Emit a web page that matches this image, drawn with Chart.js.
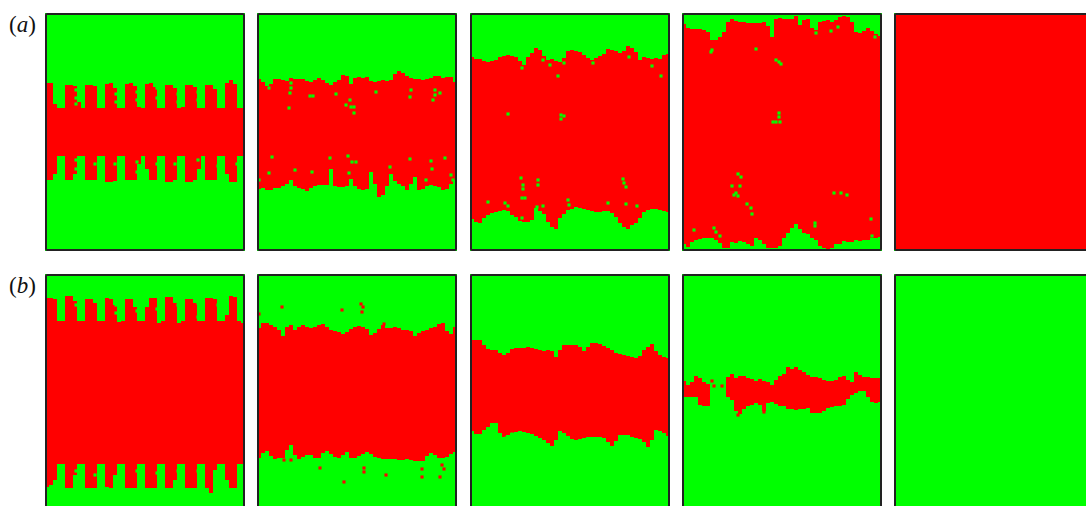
<!DOCTYPE html>
<html>
<head>
<meta charset="utf-8">
<script src="https://cdn.jsdelivr.net/npm/chart.js@4"></script>
<style>
    html, body { margin: 0; width: 1086px; height: 506px; overflow: hidden; background: #fff; }
    .panel { position: absolute; width: 200px; height: 238px; background: #00ff00; overflow: hidden; }
    .panel::after { content: ''; position: absolute; inset: 0; border: 2px solid #222; border-radius: 2px; box-sizing: border-box; }
    .panel canvas { display: block; margin-top: 1px; filter: blur(0.35px); }
    .label { position: absolute; left: 9px; font: 23px "Liberation Serif", serif; color: #111; }
    .label i { font-style: italic; }
</style>
</head>
<body>
<div class="label" style="top: 12px">(<i>a</i>)</div>
<div class="label" style="top: 273px">(<i>b</i>)</div>
<div id="panels"></div>

<script>
// every number: top and bottom of the red band per column, y counted down from the panel top
const a1Top = [69,69,90,94,94, 71,71,72,88,94, 71,71,72,94,94, 70,69,74,94,94, 70,69,72,93,94, 70,69,73,94,94, 71,71,74,94,93, 71,71,73,94,94, 71,71,75,94,94, 69,66,70,94,94];
const a1Bottom = [166,166,160,142,142, 166,166,160,142,142, 166,166,166,142,142, 168,168,167,142,142, 166,166,166,150,142, 155,166,166,142,142, 168,168,166,142,142, 168,168,166,155,142, 166,166,166,142,142, 160,168,168,142,142];
const a1Specks = [[31,76],[31,84],[31,90],[71,80],[71,88],[92,78],[92,86],[112,74],[112,84],[133,80],[133,88],[153,78],[153,86],[31,146],[31,155],[50,150],[70,150],[92,148],[92,158],[112,150],[130,150],[153,146],[173,152],[192,150]];

const a2Top = [65,68,72,70,65,65,66,67,64,65,65,65,67,68,66,64,66,69,71,68,66,61,62,70,64,63,64,63,67,68,67,66,67,66,60,57,59,62,64,65,65,66,65,64,62,62,64,63,63,68];
const a2Bottom = [175,174,176,176,174,174,172,170,166,172,174,175,177,174,172,171,171,171,155,172,173,173,172,165,172,175,176,175,158,170,183,181,172,160,167,170,172,176,170,163,176,175,172,171,172,173,176,175,170,166];
const a2Specks = [[12,74],[34,69],[34,74],[33,79],[53,82],[56,82],[32,94],[79,80],[93,86],[89,91],[94,93],[97,93],[97,99],[119,78],[154,76],[153,83],[178,76],[183,79],[178,81],[176,86],[15,143],[73,144],[91,142],[95,148],[99,148],[153,145],[174,147],[188,144],[38,156],[12,159],[55,158],[2,166],[92,159],[169,166],[194,161],[196,166],[175,155],[133,153]];

const a3Top = [43,45,45,47,48,47,46,43,42,41,42,43,47,51,43,39,34,36,42,46,45,47,48,44,37,36,37,38,41,44,46,44,42,40,35,36,37,39,37,32,34,38,46,43,44,45,44,45,41,40];
const a3Bottom = [205,208,209,204,201,199,198,197,196,197,201,203,207,208,208,206,194,197,200,208,213,215,204,200,196,195,193,194,195,196,197,198,198,197,197,199,203,209,213,215,211,209,204,198,196,195,195,196,197,198];
const a3Specks = [[52,54],[88,62],[191,62],[182,52],[73,46],[80,51],[94,49],[123,49],[159,43],[38,100],[91,101],[91,105],[94,102],[51,164],[53,171],[53,175],[68,166],[68,171],[52,184],[55,184],[153,165],[154,169],[156,173],[18,188],[35,189],[38,192],[98,186],[99,191],[73,192],[67,193],[138,189],[156,190],[167,192],[52,204]];

const a4Top = [10,14,15,15,15,16,18,26,26,23,18,8,5,7,8,8,9,9,9,9,8,12,23,5,4,5,5,5,2,11,6,5,14,16,8,7,6,8,6,3,2,3,8,18,19,17,14,17,20,22];
const a4Bottom = [230,233,228,226,225,224,224,224,226,229,234,234,228,229,227,228,230,232,224,226,230,234,234,234,232,224,219,214,210,215,219,220,224,226,232,234,235,234,230,230,227,228,228,226,227,226,226,224,224,223];
const a4Specks = [[30,36],[29,38],[74,35],[94,46],[97,48],[99,50],[97,99],[97,103],[94,108],[98,108],[91,108],[56,160],[59,163],[50,172],[58,172],[54,179],[52,181],[56,182],[65,190],[69,194],[70,200],[152,179],[159,179],[165,181],[133,209],[133,212],[189,205],[12,216],[32,214],[34,218],[38,222],[190,222],[134,19],[149,17],[156,13],[193,23]];

const a5Top = [0,0,0,0,0,0,0,0,0,0,0,0,0,0,0,0,0,0,0,0,0,0,0,0,0,0,0,0,0,0,0,0,0,0,0,0,0,0,0,0,0,0,0,0,0,0,0,0,0,0];
const a5Bottom = [236,236,236,236,236,236,236,236,236,236,236,236,236,236,236,236,236,236,236,236,236,236,236,236,236,236,236,236,236,236,236,236,236,236,236,236,236,236,236,236,236,236,236,236,236,236,236,236,236,236];

const b1Top = [23,23,24,46,46, 21,21,26,46,46, 24,24,28,46,46, 23,24,30,47,46, 24,24,32,46,46, 32,23,23,48,46, 22,22,28,48,46, 24,24,28,46,46, 23,23,24,46,46, 40,21,22,46,48];
const b1Bottom = [212,210,205,189,189, 213,213,200,189,189, 213,213,213,189,189, 212,213,200,189,189, 213,213,213,189,189, 213,213,213,189,189, 213,213,205,189,189, 213,213,213,189,189, 213,218,195,189,189, 205,213,213,189,189];
const b1Specks = [[31,30],[71,30],[71,38],[92,28],[92,36],[112,34],[133,30],[153,28],[153,42],[173,30],[31,196],[50,200],[92,196],[112,198],[133,196],[153,196],[172,198]];

const b2Top = [53,48,48,50,52,55,61,52,50,55,52,50,52,53,52,50,49,52,55,56,57,59,57,54,52,51,52,54,60,58,54,50,53,53,52,53,55,55,56,61,58,56,55,53,52,49,48,56,59,52];
const b2Bottom = [183,178,176,181,184,183,183,175,170,180,184,182,180,180,183,183,178,176,179,182,183,180,177,183,183,181,179,177,179,182,183,184,184,184,184,185,185,184,185,186,186,186,181,178,180,183,183,182,179,177];
const b2Specks = [[2,39],[25,32],[85,35],[104,29],[106,32],[105,37],[127,49],[63,193],[27,185],[34,185],[107,193],[107,197],[129,200],[165,194],[165,202],[183,202],[187,194],[185,190],[87,207]];

const b3Top = [65,65,65,70,74,75,75,78,80,78,74,73,73,73,72,73,74,75,76,75,76,82,75,70,70,70,70,72,76,72,68,68,69,71,73,75,78,79,80,81,82,83,81,75,72,69,76,80,82,83];
const b3Bottom = [156,159,159,155,152,148,148,158,162,160,158,157,156,157,158,159,161,163,165,168,171,165,156,158,161,164,165,164,163,162,162,162,162,163,167,171,166,160,160,160,162,163,164,167,172,165,155,156,158,161];
const b3Specks = [[36,163],[42,159]];

const b4Top = [106,110,107,101,103,107,109,null,null,null,null,102,99,103,101,101,103,104,106,104,106,107,110,105,101,99,92,94,92,95,97,100,102,102,103,105,106,106,105,102,101,105,107,97,100,102,102,103,103,103];
const b4Bottom = [122,122,122,122,130,131,131,null,null,null,null,122,125,136,139,134,131,130,128,130,136,128,127,129,131,131,134,134,135,134,134,133,138,138,138,136,133,132,131,131,130,124,120,118,116,116,122,127,128,127];
const b4Specks = [[30,106],[32,111],[40,111],[56,140],[82,137]];

const RED = '#ff0000';
const GREEN = '#00ff00';

function drawPanel(left, top, bandTop, bandBottom, specks, speckColor) {
    const box = document.createElement('div');
    box.className = 'panel';
    box.style.left = left + 'px';
    box.style.top = top + 'px';
    const canvas = document.createElement('canvas');
    // 200 wide so the 4px columns land on whole pixels and leave no seams
    canvas.width = 200;
    canvas.height = 236;
    box.appendChild(canvas);
    document.getElementById('panels').appendChild(box);

    new Chart(canvas.getContext('2d'), {
        type: 'bar',
        data: {
            datasets: [{
                type: 'scatter',
                data: specks.map(s => ({ x: s[0], y: s[1] })),
                pointStyle: 'rect',
                pointRadius: 2.2,
                pointBorderWidth: 0,
                backgroundColor: speckColor,
                showLine: false
            }, {
                data: bandTop.map((v, i) => ({ x: i * 4 + 2, y: v === null ? null : [v, bandBottom[i]] })),
                backgroundColor: RED,
                barPercentage: 1,
                categoryPercentage: 1,
                inflateAmount: 0
            }]
        },
        options: {
            responsive: false,
            animation: false,
            layout: { padding: 0, autoPadding: false },
            plugins: { legend: { display: false }, tooltip: { enabled: false } },
            scales: {
                x: { type: 'linear', min: 0, max: 200, offset: false, display: false },
                y: { min: 0, max: 236, reverse: true, display: false }
            }
        }
    });
}

drawPanel(45, 13, a1Top, a1Bottom, a1Specks, GREEN);
drawPanel(257, 13, a2Top, a2Bottom, a2Specks, GREEN);
drawPanel(470, 13, a3Top, a3Bottom, a3Specks, GREEN);
drawPanel(682, 13, a4Top, a4Bottom, a4Specks, GREEN);
drawPanel(894, 13, a5Top, a5Bottom, [], GREEN);

drawPanel(45, 274, b1Top, b1Bottom, b1Specks, GREEN);
drawPanel(257, 274, b2Top, b2Bottom, b2Specks, RED);
drawPanel(470, 274, b3Top, b3Bottom, b3Specks, GREEN);
drawPanel(682, 274, b4Top, b4Bottom, b4Specks, RED);
drawPanel(894, 274, [], [], [], RED);
</script>
</body>
</html>
